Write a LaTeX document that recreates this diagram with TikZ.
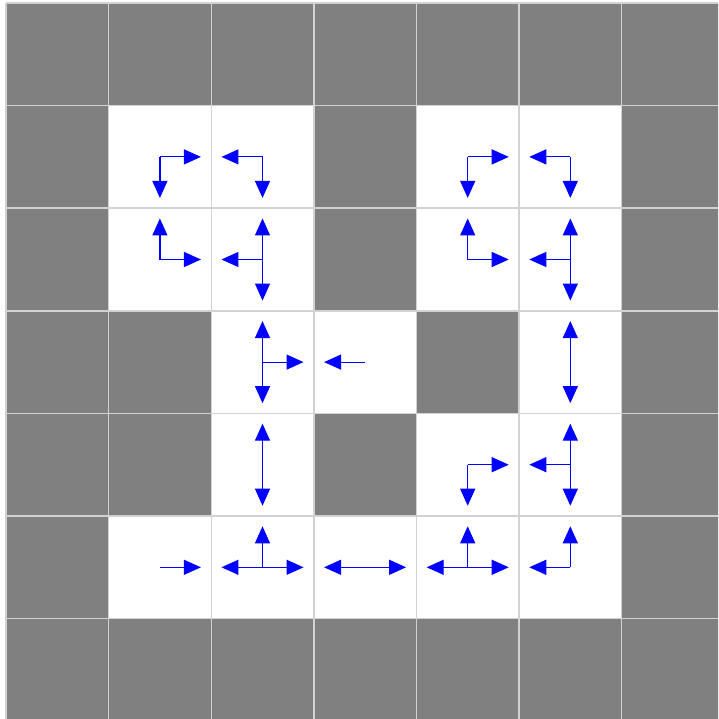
\documentclass[tikz,border=0pt]{standalone}
\usetikzlibrary{arrows.meta}
\definecolor{wallgray}{RGB}{128,128,128}
\definecolor{gridgray}{RGB}{210,210,210}
\definecolor{arrblue}{RGB}{0,0,255}
\tikzset{
  wallcell/.style={fill=wallgray},
  freecell/.style={fill=white},
  gridline/.style={draw=gridgray,line width=1.4pt},
  moveto/.style={draw=arrblue,line width=1.2pt,-{Triangle[length=17pt,width=15pt]}}
}
\begin{document}
\begin{tikzpicture}[x=1pt,y=-1pt]
\useasboundingbox (0,0) rectangle (718,719);
\clip (0,0) rectangle (718,719);
\def\cs{102.6}
\def\ox{6}
\def\oy{3}
% walls
\fill[wallcell] (\ox,\oy) rectangle ({\ox+7*\cs},{\oy+7*\cs});
% free cells
\foreach \c/\r in {1/1,2/1,4/1,5/1,1/2,2/2,4/2,5/2,2/3,3/3,5/3,2/4,4/4,5/4,1/5,2/5,3/5,4/5,5/5}{
  \fill[freecell] ({\ox+\c*\cs},{\oy+\r*\cs}) rectangle ({\ox+(\c+1)*\cs},{\oy+(\r+1)*\cs});
}
% grid
\foreach \i in {0,...,7}{
  \draw[gridline] ({\ox+\i*\cs},\oy) -- ({\ox+\i*\cs},{\oy+7*\cs});
  \draw[gridline] (\ox,{\oy+\i*\cs}) -- ({\ox+7*\cs},{\oy+\i*\cs});
}
% cell centres and arrow ends
\foreach \c/\r/\dx/\dy in {
  1/1/1/0, 1/1/0/1,
  2/1/-1/0, 2/1/0/1,
  1/2/0/-1, 1/2/1/0,
  2/2/-1/0, 2/2/0/-1, 2/2/0/1,
  4/1/1/0, 4/1/0/1,
  5/1/-1/0, 5/1/0/1,
  4/2/0/-1, 4/2/1/0,
  5/2/-1/0, 5/2/0/-1, 5/2/0/1,
  2/3/0/-1, 2/3/0/1, 2/3/1/0,
  3/3/-1/0,
  5/3/0/-1, 5/3/0/1,
  2/4/0/-1, 2/4/0/1,
  4/4/1/0, 4/4/0/1,
  5/4/-1/0, 5/4/0/-1, 5/4/0/1,
  1/5/1/0,
  2/5/-1/0, 2/5/0/-1, 2/5/1/0,
  3/5/-1/0, 3/5/1/0,
  4/5/-1/0, 4/5/0/-1, 4/5/1/0,
  5/5/-1/0, 5/5/0/-1}{
  \coordinate (ctr) at ({\ox+(\c+0.5)*\cs},{\oy+(\r+0.5)*\cs});
  \coordinate (tip) at ({\ox+(\c+0.5)*\cs+\dx*0.4*\cs},{\oy+(\r+0.5)*\cs+\dy*0.4*\cs});
  \draw[moveto] (ctr) -- (tip);
}
\end{tikzpicture}
\end{document}
